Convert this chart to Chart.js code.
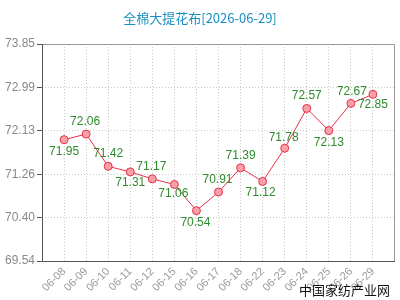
<!DOCTYPE html>
<html>
<head>
<meta charset="utf-8">
<script src="https://cdn.jsdelivr.net/npm/chart.js@4.4.0/dist/chart.umd.min.js"></script>
<style>
  html, body { margin: 0; padding: 0; background: #fff; }
  #wrap { width: 400px; height: 300px; position: relative; }
</style>
</head>
<body>
<div id="wrap"><canvas id="mycanvas" width="400" height="300"></canvas></div>
<script>
var title = '全棉大提花布[2026-06-29]';
var dates = ['06-08', '06-09', '06-10', '06-11', '06-12', '06-15', '06-16', '06-17',
  '06-18', '06-22', '06-23', '06-24', '06-25', '06-26', '06-29'];
var prices = [71.95, 72.06, 71.42, 71.31, 71.17, 71.06, 70.54, 70.91,
  71.39, 71.12, 71.78, 72.57, 72.13, 72.67, 72.85];
var yTicks = [69.54, 70.40, 71.26, 72.13, 72.99, 73.85];

// where each value label sits relative to its point: [dx, dy]
var labelOffset = [[0, 12], [-1, -12], [0, -13], [0, 11], [-1, -12], [-1, 9], [-1, 12], [-1, -12],
  [0, -12], [-2, 11], [-1, -11], [0, -13], [0, 12], [1, -12], [0, 10]];

var points = [];
for (var i in prices) {
  points.push({ x: Number(i), y: prices[i] });
}

var extras = {
  id: 'extras',
  afterDraw: function (chart) {
    var c = chart.ctx;
    var a = chart.chartArea;
    c.save();
    // title
    c.fillStyle = '#1a8fc4';
    c.font = '13px "Noto Sans CJK SC", sans-serif';
    c.textAlign = 'center';
    c.textBaseline = 'middle';
    c.fillText(title, 200, 18);
    // frame
    c.strokeStyle = '#999';
    c.lineWidth = 1;
    c.beginPath();
    c.moveTo(a.left, a.top + 0.5);
    c.lineTo(a.right - 0.5, a.top + 0.5);
    c.lineTo(a.right - 0.5, a.bottom);
    c.stroke();
    c.strokeStyle = '#555';
    c.beginPath();
    c.moveTo(a.left + 0.5, a.top);
    c.lineTo(a.left + 0.5, a.bottom + 0.5);
    c.lineTo(a.right, a.bottom + 0.5);
    c.stroke();
    // value labels
    var meta = chart.getDatasetMeta(0);
    c.fillStyle = '#2e8b2e';
    c.font = '12px Arial, "Liberation Sans", sans-serif';
    meta.data.forEach(function (pt, k) {
      c.fillText(prices[k].toFixed(2), pt.x + labelOffset[k][0], pt.y + labelOffset[k][1]);
    });
    // watermark
    c.fillStyle = '#111';
    c.font = '13px "Noto Sans CJK SC", sans-serif';
    c.textAlign = 'right';
    c.fillText('中国家纺产业网', 390, 290);
    c.restore();
  }
};

var ctx = document.getElementById('mycanvas');
var lineGraph = new Chart(ctx, {
  type: 'line',
  data: {
    datasets: [{
      data: points,
      borderColor: '#e8304a',
      borderWidth: 1,
      backgroundColor: '#f7a0a8',
      pointBackgroundColor: '#f7a0a8',
      pointBorderColor: '#e8304a',
      pointBorderWidth: 1,
      pointRadius: 4,
      tension: 0
    }]
  },
  options: {
    responsive: false,
    animation: false,
    layout: { padding: { top: 44, right: 1, left: 0, bottom: 0 } },
    plugins: { legend: { display: false }, tooltip: { enabled: false } },
    scales: {
      x: {
        type: 'linear',
        min: -1,
        max: 15,
        afterBuildTicks: function (scale) {
          scale.ticks = dates.map(function (d, k) { return { value: k }; });
        },
        afterFit: function (scale) { scale.height = 39; },
        border: { display: false, dash: [1, 2] },
        grid: { color: '#c8c8c8', drawTicks: false },
        ticks: {
          autoSkip: false,
          minRotation: 45,
          maxRotation: 45,
          padding: 4,
          color: '#999',
          font: { size: 11, family: 'Arial, "Liberation Sans", sans-serif' },
          callback: function (v) { return dates[v]; }
        }
      },
      y: {
        min: 69.54,
        max: 73.85,
        afterBuildTicks: function (scale) {
          scale.ticks = yTicks.map(function (v) { return { value: v }; });
        },
        afterFit: function (scale) { scale.width = 42; },
        border: { display: false, dash: [1, 2] },
        grid: { color: '#c8c8c8', tickLength: 5, tickColor: '#555', tickBorderDash: [] },
        ticks: {
          padding: 2,
          color: '#888',
          font: { size: 12, family: 'Arial, "Liberation Sans", sans-serif' },
          callback: function (v) { return Number(v).toFixed(2); }
        }
      }
    }
  },
  plugins: [extras]
});
</script>
</body>
</html>
